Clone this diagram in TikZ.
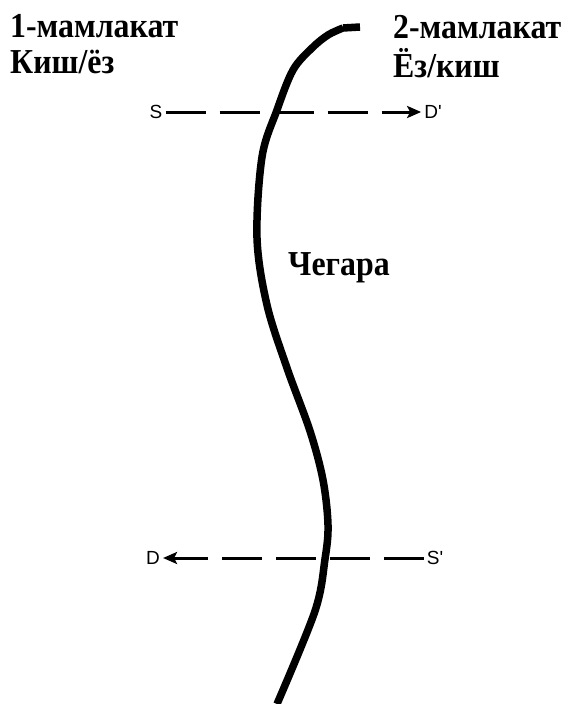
\documentclass[tikz,border=0pt]{standalone}
\usepackage{fontspec}
\setmainfont{Liberation Serif}
\newfontfamily\arialfont{Liberation Sans}
\usetikzlibrary{arrows.meta}
\tikzset{
  title/.style={anchor=base west, inner sep=0pt, font=\fontsize{35}{38}\selectfont\bfseries\addfontfeature{FakeStretch=0.91}},
  letter/.style={inner sep=3pt, text height=13pt, text depth=0pt, font=\fontsize{19}{21}\selectfont\arialfont},
  flow/.style={line width=3pt, dash pattern=on 40pt off 14pt, -{Stealth[length=14pt,width=12pt,inset=3pt]}},
  border/.style={line width=7.5pt, line join=round}
}

\begin{document}
\begin{tikzpicture}[x=1pt, y=-1pt]
        \useasboundingbox (0,0) rectangle (571,704);
        % border line
        \coordinate (a) at (360,27);
        \coordinate (b) at (343,28);
        \coordinate (c) at (328,35);
        \coordinate (d) at (312,48);
        \coordinate (e) at (293,70);
        \coordinate (f) at (277,110);
        \coordinate (g) at (262,157);
        \coordinate (h) at (257,238);
        \coordinate (i) at (267,305);
        \coordinate (j) at (287,368);
        \coordinate (k) at (310,431);
        \coordinate (l) at (323,480);
        \coordinate (m) at (328,525);
        \coordinate (n) at (325,559);
        \coordinate (o) at (315,611);
        \coordinate (p) at (277,704);
        \draw[border] (a) -- (b) plot[smooth, tension=0.55] coordinates {(b) (c) (d) (e) (f) (g) (h) (i) (j) (k) (l) (m) (n) (o) (p)};
        % labels
        \node[title] (c1) at (10,37) {1-мамлакат};
        \node[title] (c1b) at (10,73) {Киш/ёз};
        \node[title] (c2) at (393,38) {2-мамлакат};
        \node[title] (c2b) at (393,77) {Ёз/киш};
        \node[title] (brd) at (288,275) {Чегара};
        % flows
        \node[letter] (S) at (156,112) {S};
        \node[letter] (D1) at (433,112) {D'};
        \node[letter] (D) at (153,558) {D};
        \node[letter] (S1) at (435,558) {S'};
        \draw[flow] (S) -- (D1);
        \draw[flow] (S1) -- (D);
\end{tikzpicture}
\end{document}
